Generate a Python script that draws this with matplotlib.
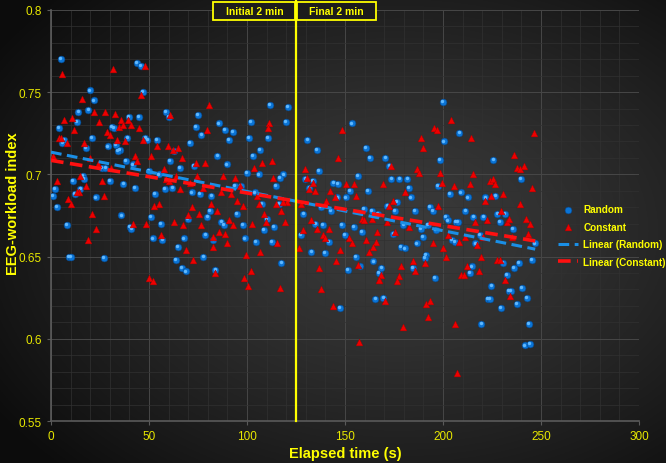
import numpy as np
import matplotlib
matplotlib.use('Agg')
import matplotlib.pyplot as plt
import matplotlib.transforms as mtransforms
from matplotlib.patches import Rectangle

# Random condition (blue spheres): elapsed time (s), EEG-workload index
random_t = [4.9, 19.9, 21.9, 14.0, 19.0, 13.1, 4.1, 31.1, 32.0, 20.9, 5.8, 6.6, 39.0, 28.9, 33.2,
            35.0, 34.0, 17.9, 38.0, 39.8, 26.0, 27.7, 30.0, 36.9, 11.0, 16.2, 16.8, 15.0, 12.1, 1.9,
            1.0, 2.9, 23.0, 35.9, 8.0, 40.3, 9.0, 10.0, 27.0,
            43.7, 45.7, 46.8, 44.9, 58.7, 60.0, 74.8, 74.0, 76.7, 48.1, 49.1, 53.9, 70.7, 62.7, 60.7,
            65.8, 73.0, 41.7, 49.8, 55.0, 42.9, 58.0, 61.9, 52.9, 71.8, 75.8, 81.8, 81.1, 79.8, 50.8,
            56.0, 69.9, 41.0, 51.9, 56.8, 67.9, 78.7, 64.8, 77.7, 63.8, 66.7, 68.9,
            111.7, 120.9, 85.5, 88.6, 92.6, 90.6, 101.8, 100.8, 110.7, 119.9, 106.6, 84.8, 102.8, 89.6,
            99.8, 105.9, 118.5, 116.8, 114.8, 93.7, 96.7, 103.9, 107.6, 116.1, 94.7, 86.9, 88.2, 97.7,
            110.0, 113.7, 108.6, 82.8, 98.8, 104.5, 112.7, 117.5, 83.8,
            153.6, 130.8, 135.5, 160.7, 162.8, 136.6, 156.6, 129.8, 133.5, 131.8, 144.0, 146.4, 152.6,
            150.5, 146.1, 161.7, 137.6, 142.7, 128.7, 159.7, 163.8, 166.8, 134.9, 138.6, 148.5, 154.6,
            158.7, 127.4, 149.8, 141.7, 132.8, 139.6, 155.6, 164.5, 157.7, 151.5, 167.2, 165.5, 147.4,
            199.8, 208.3, 200.5, 170.5, 172.6, 198.4, 173.6, 177.7, 181.8, 182.5, 197.4, 203.5, 209.0,
            183.5, 171.6, 176.3, 175.3, 185.5, 193.3, 194.7, 201.5, 202.5, 206.6, 207.6, 179.7, 188.6,
            192.3, 189.6, 196.4, 174.6, 204.6, 205.9, 186.5, 178.4, 180.4, 191.3, 190.6, 168.5, 184.5,
            195.7, 169.5,
            225.7, 239.7, 212.8, 221.6, 226.7, 211.4, 215.5, 220.6, 227.7, 231.5, 228.8, 235.6, 218.9,
            216.5, 246.8, 245.4, 230.5, 238.6, 236.2, 214.8, 213.8, 232.5, 224.7, 240.3, 233.5, 234.6,
            242.7, 223.0, 223.7, 237.6, 229.4, 219.6, 243.7, 241.7, 244.4]
random_v = [0.770, 0.751, 0.745, 0.738, 0.739, 0.732, 0.728, 0.729, 0.728, 0.722, 0.719, 0.721, 0.722,
            0.717, 0.718, 0.715, 0.714, 0.716, 0.708, 0.735, 0.704, 0.704, 0.696, 0.694, 0.696, 0.699,
            0.697, 0.691, 0.688, 0.691, 0.687, 0.680, 0.686, 0.675, 0.669, 0.668, 0.650, 0.650, 0.649,
            0.768, 0.766, 0.750, 0.735, 0.738, 0.735, 0.736, 0.729, 0.724, 0.722, 0.721, 0.721, 0.719,
            0.714, 0.708, 0.704, 0.705, 0.706, 0.702, 0.700, 0.692, 0.691, 0.692, 0.688, 0.689, 0.688,
            0.687, 0.678, 0.674, 0.674, 0.670, 0.673, 0.667, 0.661, 0.660, 0.661, 0.663, 0.656, 0.650,
            0.648, 0.643, 0.641,
            0.742, 0.741, 0.731, 0.727, 0.726, 0.721, 0.732, 0.722, 0.722, 0.732, 0.715, 0.711, 0.711,
            0.706, 0.701, 0.700, 0.700, 0.698, 0.693, 0.693, 0.693, 0.689, 0.682, 0.682, 0.676, 0.671,
            0.669, 0.669, 0.673, 0.668, 0.666, 0.660, 0.661, 0.659, 0.659, 0.646, 0.642,
            0.731, 0.721, 0.715, 0.716, 0.710, 0.702, 0.699, 0.697, 0.696, 0.692, 0.695, 0.694, 0.690,
            0.686, 0.686, 0.690, 0.680, 0.678, 0.676, 0.679, 0.678, 0.676, 0.670, 0.669, 0.669, 0.668,
            0.665, 0.663, 0.663, 0.659, 0.653, 0.652, 0.650, 0.647, 0.644, 0.642, 0.640, 0.624, 0.619,
            0.744, 0.725, 0.720, 0.710, 0.705, 0.709, 0.697, 0.697, 0.697, 0.692, 0.693, 0.688, 0.689,
            0.686, 0.681, 0.683, 0.678, 0.678, 0.680, 0.678, 0.674, 0.672, 0.671, 0.671, 0.669, 0.667,
            0.669, 0.662, 0.666, 0.664, 0.660, 0.659, 0.658, 0.656, 0.655, 0.651, 0.649, 0.643, 0.643,
            0.637, 0.625,
            0.709, 0.697, 0.686, 0.686, 0.687, 0.678, 0.674, 0.674, 0.676, 0.676, 0.671, 0.667, 0.663,
            0.658, 0.658, 0.648, 0.646, 0.646, 0.643, 0.644, 0.640, 0.639, 0.632, 0.631, 0.629, 0.629,
            0.625, 0.624, 0.624, 0.621, 0.619, 0.609, 0.609, 0.596, 0.597]

# Constant condition (red triangles)
constant_t = [5.8, 31.8, 15.8, 21.9, 27.7, 32.8, 6.8, 10.9, 24.7, 35.9, 34.9, 36.9, 39.3, 11.9, 28.7,
              29.9, 4.1, 5.3, 8.0, 16.8, 33.8, 37.9, 0.8, 19.7, 24.0, 30.8, 2.9, 15.0, 18.0, 25.9,
              14.1, 13.1, 8.8, 10.0, 27.0, 20.7, 23.0, 18.9,
              47.8, 45.7, 80.8, 60.7, 41.0, 44.7, 79.8, 46.8, 53.9, 59.7, 62.1, 64.8, 42.7, 43.9, 50.8,
              66.7, 73.8, 78.7, 57.6, 63.8, 74.7, 58.7, 60.4, 70.9, 65.8, 77.4, 81.5, 55.0, 52.5, 71.8,
              75.7, 69.9, 41.7, 48.5, 62.7, 67.5, 76.7, 56.0, 82.5, 68.9, 72.6, 49.8, 51.9,
              111.4, 110.7, 107.6, 112.7, 103.5, 87.9, 93.7, 113.4, 96.4, 86.9, 91.6, 104.9, 94.7,
              105.9, 97.7, 114.8, 120.5, 118.5, 84.5, 117.5, 108.6, 90.6, 109.7, 119.5, 102.5, 92.6,
              85.5, 88.6, 89.6, 82.8, 115.4, 106.6, 99.4, 101.8, 83.8, 98.4, 100.5, 116.8,
              148.5, 146.4, 129.4, 130.8, 133.8, 131.8, 134.9, 142.3, 150.5, 154.6, 155.6, 144.7, 140.3,
              127.4, 158.7, 159.7, 163.8, 132.5, 128.4, 135.5, 141.7, 138.6, 140.0, 152.2, 153.6, 166.5,
              160.7, 165.8, 164.5, 162.4, 147.4, 126.4, 145.4, 156.6, 136.6, 167.2, 137.6, 143.7, 157.3,
              204.2, 195.4, 196.7, 188.6, 189.6, 173.6, 186.5, 187.5, 198.4, 169.5, 180.4, 199.5, 205.6,
              174.6, 172.6, 197.4, 171.6, 182.5, 175.6, 202.5, 208.3, 194.7, 200.1, 201.5, 184.5, 190.6,
              178.7, 185.5, 168.5, 177.7, 167.5, 176.3, 209.0, 170.2, 191.3, 193.3, 192.3, 179.4, 206.3,
              207.3,
              246.5, 214.5, 236.3, 237.6, 241.4, 239.3, 215.5, 213.5, 223.7, 225.4, 226.4, 245.4, 230.5,
              224.3, 221.6, 239.3, 229.4, 242.4, 216.5, 222.3, 232.5, 233.5, 244.4, 243.4, 211.4, 220.3,
              235.2, 217.5, 219.2, 227.4, 228.8, 212.4, 218.2, 210.7, 231.5, 234.2]
constant_v = [0.761, 0.764, 0.746, 0.738, 0.738, 0.737, 0.733, 0.734, 0.732, 0.733, 0.729, 0.730, 0.733,
              0.727, 0.726, 0.724, 0.722, 0.722, 0.719, 0.719, 0.721, 0.720, 0.711, 0.710, 0.706, 0.704,
              0.696, 0.699, 0.693, 0.696, 0.689, 0.689, 0.685, 0.682, 0.687, 0.676, 0.667, 0.660,
              0.766, 0.748, 0.742, 0.736, 0.730, 0.728, 0.727, 0.721, 0.717, 0.717, 0.715, 0.716, 0.711,
              0.708, 0.711, 0.710, 0.707, 0.707, 0.703, 0.699, 0.699, 0.697, 0.696, 0.695, 0.691, 0.692,
              0.682, 0.682, 0.681, 0.680, 0.676, 0.675, 0.670, 0.670, 0.671, 0.669, 0.669, 0.663, 0.662,
              0.654, 0.648, 0.637, 0.635,
              0.731, 0.728, 0.707, 0.708, 0.704, 0.699, 0.698, 0.698, 0.693, 0.689, 0.688, 0.687, 0.684,
              0.682, 0.681, 0.682, 0.683, 0.683, 0.678, 0.678, 0.676, 0.672, 0.671, 0.671, 0.670, 0.669,
              0.665, 0.664, 0.658, 0.656, 0.658, 0.653, 0.651, 0.641, 0.640, 0.637, 0.632, 0.631,
              0.727, 0.710, 0.703, 0.698, 0.695, 0.691, 0.690, 0.690, 0.694, 0.694, 0.687, 0.686, 0.684,
              0.682, 0.673, 0.672, 0.673, 0.672, 0.666, 0.667, 0.667, 0.663, 0.661, 0.661, 0.658, 0.665,
              0.660, 0.659, 0.656, 0.653, 0.654, 0.655, 0.647, 0.645, 0.643, 0.636, 0.630, 0.620, 0.598,
              0.733, 0.728, 0.727, 0.722, 0.716, 0.705, 0.703, 0.701, 0.701, 0.694, 0.689, 0.695, 0.693,
              0.684, 0.681, 0.681, 0.671, 0.668, 0.665, 0.663, 0.659, 0.658, 0.655, 0.650, 0.647, 0.646,
              0.644, 0.641, 0.639, 0.638, 0.636, 0.635, 0.639, 0.623, 0.621, 0.623, 0.613, 0.607, 0.609,
              0.579,
              0.725, 0.722, 0.712, 0.704, 0.705, 0.703, 0.700, 0.694, 0.696, 0.697, 0.694, 0.692, 0.688,
              0.687, 0.684, 0.682, 0.678, 0.673, 0.671, 0.672, 0.671, 0.673, 0.670, 0.664, 0.662, 0.662,
              0.662, 0.657, 0.650, 0.648, 0.648, 0.644, 0.641, 0.639, 0.636, 0.626]

# linear trend lines, endpoints
trend_t = [0, 247]
trend_random = [0.7135, 0.6545]
trend_constant = [0.7085, 0.6595]

phase_labels = ['Initial 2 min', 'Final 2 min']
phase_split = 125

YELLOW = '#ffff00'
TICK_YELLOW = '#e8e800'
FONT = ['Liberation Sans', 'DejaVu Sans']
plt.rcParams['font.family'] = FONT

fig = plt.figure(figsize=(6.66, 4.64), dpi=100)

# dark radial gradient background
bg = fig.add_axes([0, 0, 1, 1], zorder=-10)
yy, xx = np.mgrid[0:1:300j, 0:1:430j]
r = np.sqrt(((xx - 0.6) / 0.75) ** 2 + ((yy - 0.5) / 0.75) ** 2)
shade = np.clip(0.23 - 0.19 * r ** 1.3, 0.05, 1)
bg.imshow(np.dstack([shade, shade, shade]), aspect='auto', extent=[0, 1, 0, 1])
bg.set_axis_off()

ax = fig.add_axes([0.0766, 0.0905, 0.883, 0.886])
ax.set_facecolor('none')
ax.set_xlim(0, 300)
ax.set_ylim(0.55, 0.8)
ax.set_xticks(np.arange(0, 301, 50))
ax.set_yticks([0.55, 0.6, 0.65, 0.7, 0.75, 0.8])
ax.set_yticklabels(['0.55', '0.6', '0.65', '0.7', '0.75', '0.8'])
ax.set_xticks(np.arange(0, 301, 10), minor=True)
ax.set_yticks(np.arange(0.55, 0.801, 0.01), minor=True)
ax.grid(True, which='major', color='#474747', lw=0.7)
ax.grid(True, which='minor', color='#313131', lw=0.5)
ax.set_axisbelow(True)
for s in ['top', 'right']:
    ax.spines[s].set_visible(False)
for s in ['left', 'bottom']:
    ax.spines[s].set_color('#5a5a5a')
    ax.spines[s].set_linewidth(1.2)
ax.tick_params(which='major', colors='#5a5a5a', length=3, labelcolor=TICK_YELLOW, labelsize=8.5)
ax.tick_params(which='minor', length=0)

ax.set_xlabel('Elapsed time (s)', color=YELLOW, fontsize=10.5, fontweight='bold')
ax.set_ylabel('EEG-workload index', color=YELLOW, fontsize=10.5, fontweight='bold')
ax.xaxis.set_label_coords(0.5, -0.06)
ax.yaxis.set_label_coords(-0.052, 0.53)

# blue spheres with a small highlight
ax.scatter(random_t, random_v, s=24, marker='o', color='#0a74d6', edgecolor='#06468a',
           linewidth=0.4, zorder=3, label='Random')
hl = mtransforms.offset_copy(ax.transData, fig=fig, x=-0.5, y=0.6, units='points')
ax.scatter(random_t, random_v, s=6, marker='o', color='#5fb8ff', linewidth=0,
           transform=hl, zorder=3)
ax.scatter(constant_t, constant_v, s=24, marker='^', color='#ee0000', edgecolor='#aa0000',
           linewidth=0.3, zorder=4, label='Constant')

ax.plot(trend_t, trend_random, color='#1a8fe6', lw=2.2, ls=(0, (3.5, 1.8)), zorder=5,
        label='Linear (Random)')
ax.plot(trend_t, trend_constant, color='#ff1010', lw=2.6, ls=(0, (3.5, 1.8)), zorder=5,
        label='Linear (Constant)')

# phase divider and boxes
ax.axvline(phase_split, ymin=0, ymax=1.027, color=YELLOW, lw=1.6, clip_on=False, zorder=6)
box_y0, box_y1 = 0.7936, 0.8049
ax.add_patch(Rectangle((82.5, box_y0), phase_split - 0.6 - 82.5, box_y1 - box_y0,
                       facecolor='#1c1c1c', edgecolor=YELLOW, lw=1.3, clip_on=False, zorder=7))
ax.add_patch(Rectangle((phase_split + 0.6, box_y0), 165.8 - phase_split - 0.6, box_y1 - box_y0,
                       facecolor='#1c1c1c', edgecolor=YELLOW, lw=1.3, clip_on=False, zorder=7))
ax.text((82.5 + phase_split) / 2, (box_y0 + box_y1) / 2, phase_labels[0], color=YELLOW,
        fontsize=7.5, fontweight='bold', ha='center', va='center', zorder=8, clip_on=False)
ax.text((phase_split + 165.8) / 2, (box_y0 + box_y1) / 2, phase_labels[1], color=YELLOW,
        fontsize=7.5, fontweight='bold', ha='center', va='center', zorder=8, clip_on=False)

leg = fig.legend(loc='center left', bbox_to_anchor=(0.825, 0.49), frameon=False,
                 handlelength=2.0, handletextpad=0.5, labelspacing=0.75,
                 prop={'family': FONT, 'weight': 'bold', 'size': 7.2})
for t in leg.get_texts():
    t.set_color(YELLOW)

fig.patch.set_edgecolor('#8a8a8a')
fig.patch.set_linewidth(1.5)
fig.savefig('out.png', dpi=100, facecolor='#111111', edgecolor=fig.get_edgecolor())
